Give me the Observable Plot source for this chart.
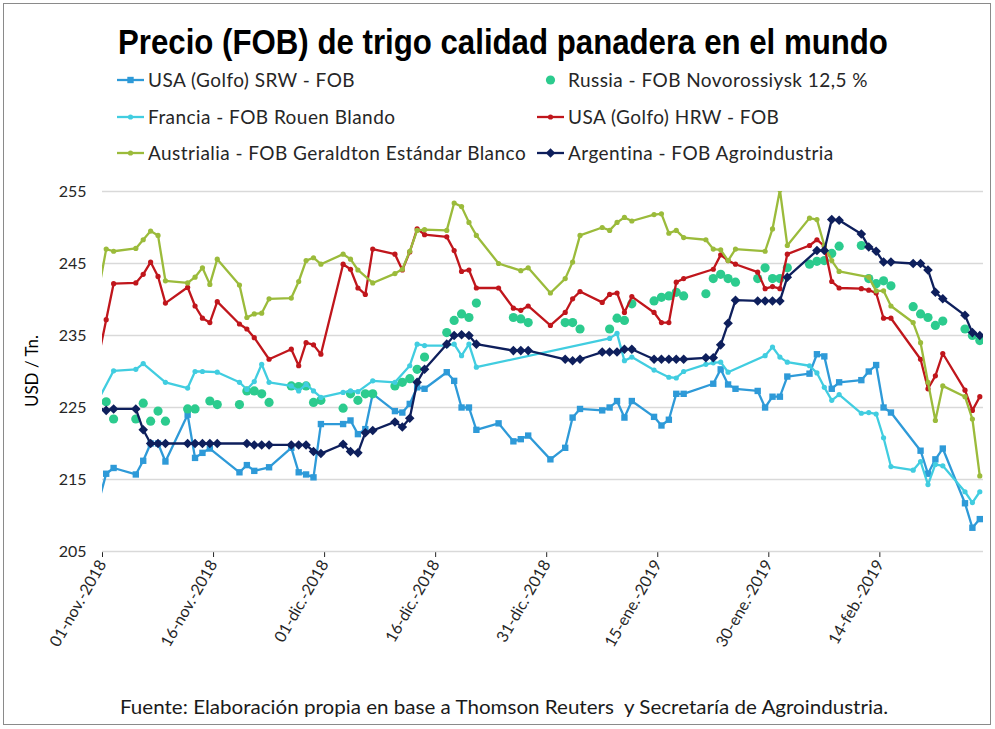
<!DOCTYPE html>
<html><head><meta charset="utf-8">
<script src="https://cdn.jsdelivr.net/npm/d3@7"></script>
<script src="https://cdn.jsdelivr.net/npm/@observablehq/plot@0.6"></script>
<style>
html,body{margin:0;padding:0;background:#fff;}
body{width:995px;height:729px;position:relative;overflow:hidden;font-family:Lato,"Open Sans",sans-serif;color:#262626;}
#frame{position:absolute;left:3px;top:3px;width:988px;height:722px;border:1px solid #8a8a8a;box-sizing:border-box;}
#head{position:absolute;left:0;top:0;}
#chart{position:absolute;left:0;top:180px;}
#ylabel{position:absolute;left:31px;top:371px;transform:translate(-50%,-50%) rotate(-90deg);font-size:17px;white-space:nowrap;color:#000;}
#bottom{position:absolute;left:0;top:690px;}
#chart svg g[aria-label="x-axis"] line{stroke:#bfbfbf;}
#chart svg g[aria-label="x-axis"] text{font-size:19px;letter-spacing:1px;}
#chart svg g[aria-label="y-axis"] text{font-size:17px;}
</style></head>
<body>
<div id="frame"></div>
<svg id="head" width="995" height="180"></svg>
<div id="chart"></div>
<div id="ylabel">USD / Tn.</div>
<svg id="bottom" width="995" height="36"></svg>
<script>
const titleText = "Precio (FOB) de trigo calidad panadera en el mundo";
const captionText = "Fuente: Elaboración propia en base a Thomson Reuters  y Secretaría de Agroindustria.";
const seriesNames = ["USA (Golfo) SRW - FOB","Russia - FOB Novorossiysk 12,5 %","Francia - FOB Rouen Blando","USA (Golfo) HRW - FOB","Austrialia - FOB Geraldton Estándar Blanco","Argentina - FOB Agroindustria"];
const seriesColors = ["#2e9ad8","#2ccb8e","#41cde0","#c0161c","#9bbb3b","#0e1f5c"];

const srw = [["2018-10-31",212.0],["2018-11-01",215.8],["2018-11-02",216.6],["2018-11-05",215.7],["2018-11-06",217.6],["2018-11-07",220.0],["2018-11-08",220.0],["2018-11-09",217.5],["2018-11-12",224.0],["2018-11-13",218.0],["2018-11-14",218.7],["2018-11-15",219.3],["2018-11-19",216.0],["2018-11-20",217.0],["2018-11-21",216.2],["2018-11-23",216.7],["2018-11-26",219.4],["2018-11-27",216.0],["2018-11-28",215.7],["2018-11-29",215.3],["2018-11-30",222.7],["2018-12-03",222.7],["2018-12-04",223.2],["2018-12-05",221.3],["2018-12-06",222.0],["2018-12-07",226.9],["2018-12-10",224.5],["2018-12-11",224.3],["2018-12-12",225.5],["2018-12-13",227.8],["2018-12-14",227.6],["2018-12-17",229.9],["2018-12-18",228.7],["2018-12-19",225.0],["2018-12-20",225.0],["2018-12-21",221.9],["2018-12-24",222.8],["2018-12-26",220.3],["2018-12-27",220.6],["2018-12-28",221.1],["2018-12-31",217.8],["2019-01-02",219.4],["2019-01-03",223.6],["2019-01-04",224.8],["2019-01-07",224.6],["2019-01-08",225.0],["2019-01-09",225.9],["2019-01-10",223.6],["2019-01-11",225.9],["2019-01-14",223.7],["2019-01-15",222.5],["2019-01-16",223.3],["2019-01-17",226.9],["2019-01-18",226.9],["2019-01-22",228.3],["2019-01-23",230.3],["2019-01-24",228.2],["2019-01-25",227.6],["2019-01-28",227.3],["2019-01-29",225.0],["2019-01-30",226.5],["2019-01-31",226.5],["2019-02-01",229.3],["2019-02-04",229.7],["2019-02-05",232.4],["2019-02-06",232.1],["2019-02-07",227.6],["2019-02-08",228.5],["2019-02-11",228.8],["2019-02-12",230.0],["2019-02-13",230.9],["2019-02-14",225.0],["2019-02-15",224.3],["2019-02-19",219.0],["2019-02-20",215.8],["2019-02-21",217.8],["2019-02-22",219.3],["2019-02-25",211.7],["2019-02-26",208.3],["2019-02-27",209.5]];

const russia = [["2018-11-01",225.8],["2018-11-02",223.4],["2018-11-05",223.4],["2018-11-06",225.6],["2018-11-07",223.1],["2018-11-08",224.5],["2018-11-09",223.1],["2018-11-12",224.8],["2018-11-13",224.8],["2018-11-15",225.9],["2018-11-16",225.4],["2018-11-19",225.4],["2018-11-20",227.3],["2018-11-21",227.3],["2018-11-22",226.9],["2018-11-23",225.7],["2018-11-26",228.0],["2018-11-27",227.9],["2018-11-28",228.0],["2018-11-29",225.7],["2018-11-30",226.0],["2018-12-03",224.9],["2018-12-04",226.9],["2018-12-05",226.0],["2018-12-06",226.9],["2018-12-07",226.9],["2018-12-10",228.0],["2018-12-11",228.5],["2018-12-12",229.0],["2018-12-13",230.3],["2018-12-14",232.0],["2018-12-17",235.4],["2018-12-18",237.1],["2018-12-19",238.0],["2018-12-20",237.5],["2018-12-21",239.5],["2018-12-26",237.5],["2018-12-27",237.3],["2018-12-28",236.8],["2019-01-02",236.8],["2019-01-03",236.8],["2019-01-04",235.9],["2019-01-08",235.9],["2019-01-09",237.4],["2019-01-10",237.1],["2019-01-11",239.4],["2019-01-14",239.8],["2019-01-15",240.3],["2019-01-16",240.5],["2019-01-17",241.0],["2019-01-18",240.5],["2019-01-21",240.8],["2019-01-22",242.9],["2019-01-23",243.5],["2019-01-24",242.9],["2019-01-25",242.4],["2019-01-28",242.9],["2019-01-29",244.4],["2019-01-30",242.9],["2019-01-31",242.9],["2019-02-01",244.4],["2019-02-04",244.9],["2019-02-05",245.3],["2019-02-06",245.4],["2019-02-07",246.4],["2019-02-08",247.4],["2019-02-11",247.5],["2019-02-12",242.9],["2019-02-13",242.2],["2019-02-14",242.6],["2019-02-15",241.9],["2019-02-18",239.0],["2019-02-19",238.0],["2019-02-20",237.5],["2019-02-21",236.4],["2019-02-22",237.0],["2019-02-25",235.9],["2019-02-26",235.0],["2019-02-27",234.3]];

const francia = [["2018-10-31",226.2],["2018-11-02",230.1],["2018-11-05",230.3],["2018-11-06",231.1],["2018-11-09",228.5],["2018-11-12",227.7],["2018-11-13",230.0],["2018-11-14",230.0],["2018-11-16",229.9],["2018-11-19",228.5],["2018-11-20",227.5],["2018-11-21",228.6],["2018-11-22",231.0],["2018-11-23",228.5],["2018-11-26",228.0],["2018-11-27",227.3],["2018-11-28",228.2],["2018-11-29",227.3],["2018-11-30",226.4],["2018-12-03",227.1],["2018-12-04",227.3],["2018-12-05",227.2],["2018-12-07",228.7],["2018-12-10",228.5],["2018-12-12",230.8],["2018-12-13",233.8],["2018-12-14",233.6],["2018-12-17",233.6],["2018-12-18",233.8],["2018-12-19",232.2],["2018-12-20",233.8],["2018-12-21",230.6],["2019-01-08",234.6],["2019-01-09",235.3],["2019-01-10",231.5],["2019-01-11",232.0],["2019-01-14",230.2],["2019-01-16",229.2],["2019-01-17",229.1],["2019-01-18",230.0],["2019-01-21",231.0],["2019-01-22",231.2],["2019-01-23",231.3],["2019-01-24",229.9],["2019-01-29",232.2],["2019-01-30",233.4],["2019-01-31",232.0],["2019-02-01",231.3],["2019-02-04",230.8],["2019-02-05",229.8],["2019-02-06",227.8],["2019-02-07",226.0],["2019-02-08",226.8],["2019-02-11",224.2],["2019-02-12",224.3],["2019-02-13",224.1],["2019-02-14",220.8],["2019-02-15",216.8],["2019-02-18",216.3],["2019-02-19",217.5],["2019-02-20",214.3],["2019-02-21",217.1],["2019-02-22",216.9],["2019-02-25",213.3],["2019-02-26",211.8],["2019-02-27",213.3]];

const hrw = [["2018-10-31",232.2],["2018-11-01",237.2],["2018-11-02",242.2],["2018-11-05",242.3],["2018-11-06",243.5],["2018-11-07",245.2],["2018-11-08",243.2],["2018-11-09",239.5],["2018-11-12",241.7],["2018-11-13",239.1],["2018-11-14",237.4],["2018-11-15",236.8],["2018-11-16",239.7],["2018-11-19",236.6],["2018-11-20",235.9],["2018-11-21",234.7],["2018-11-23",231.7],["2018-11-26",233.1],["2018-11-27",230.8],["2018-11-28",234.0],["2018-11-29",233.7],["2018-11-30",232.4],["2018-12-03",244.9],["2018-12-04",244.2],["2018-12-05",241.6],["2018-12-06",240.7],["2018-12-07",247.0],["2018-12-10",246.3],["2018-12-11",244.1],["2018-12-12",246.6],["2018-12-13",249.8],["2018-12-14",249.0],["2018-12-17",248.7],["2018-12-18",246.8],["2018-12-19",243.9],["2018-12-20",244.1],["2018-12-21",241.6],["2018-12-24",241.6],["2018-12-26",238.8],["2018-12-27",238.5],["2018-12-28",239.1],["2018-12-31",236.4],["2019-01-02",238.2],["2019-01-03",240.1],["2019-01-04",241.1],["2019-01-07",239.6],["2019-01-08",240.7],["2019-01-09",240.9],["2019-01-10",238.2],["2019-01-11",240.4],["2019-01-14",238.2],["2019-01-15",236.8],["2019-01-16",236.8],["2019-01-17",242.4],["2019-01-18",242.9],["2019-01-22",244.2],["2019-01-23",246.2],["2019-01-24",245.4],["2019-01-25",244.9],["2019-01-28",243.8],["2019-01-29",241.5],["2019-01-30",241.8],["2019-01-31",241.5],["2019-02-01",246.3],["2019-02-04",247.5],["2019-02-05",248.3],["2019-02-06",247.4],["2019-02-07",242.5],["2019-02-08",241.6],["2019-02-11",241.5],["2019-02-12",241.3],["2019-02-13",240.9],["2019-02-14",237.4],["2019-02-15",237.4],["2019-02-19",231.7],["2019-02-20",227.6],["2019-02-21",229.4],["2019-02-22",232.5],["2019-02-25",227.4],["2019-02-26",224.6],["2019-02-27",226.5]];

const australia = [["2018-10-31",241.4],["2018-11-01",247.0],["2018-11-02",246.7],["2018-11-05",247.1],["2018-11-06",248.3],["2018-11-07",249.5],["2018-11-08",248.9],["2018-11-09",242.6],["2018-11-12",242.3],["2018-11-13",243.1],["2018-11-14",244.4],["2018-11-15",242.1],["2018-11-16",245.6],["2018-11-19",242.0],["2018-11-20",237.5],["2018-11-21",238.0],["2018-11-22",238.1],["2018-11-23",240.1],["2018-11-26",240.2],["2018-11-27",242.5],["2018-11-28",245.4],["2018-11-29",245.8],["2018-11-30",244.9],["2018-12-03",246.3],["2018-12-04",245.6],["2018-12-05",244.1],["2018-12-07",242.3],["2018-12-10",243.6],["2018-12-11",244.2],["2018-12-12",246.7],["2018-12-13",249.6],["2018-12-14",249.7],["2018-12-17",249.6],["2018-12-18",253.4],["2018-12-19",252.9],["2018-12-20",250.7],["2018-12-21",248.9],["2018-12-24",245.0],["2018-12-27",244.0],["2018-12-28",244.4],["2018-12-31",240.9],["2019-01-02",242.9],["2019-01-03",245.2],["2019-01-04",248.9],["2019-01-07",250.0],["2019-01-08",249.6],["2019-01-09",250.7],["2019-01-10",251.4],["2019-01-11",250.9],["2019-01-14",251.8],["2019-01-15",251.9],["2019-01-16",249.2],["2019-01-17",249.6],["2019-01-18",248.6],["2019-01-21",248.3],["2019-01-22",247.0],["2019-01-23",246.9],["2019-01-24",245.4],["2019-01-25",247.0],["2019-01-29",246.7],["2019-01-30",249.8],["2019-01-31",255.2],["2019-02-01",247.5],["2019-02-04",251.3],["2019-02-05",251.1],["2019-02-06",247.5],["2019-02-07",245.4],["2019-02-08",243.9],["2019-02-12",243.1],["2019-02-13",241.2],["2019-02-14",241.2],["2019-02-15",239.1],["2019-02-18",236.8],["2019-02-19",234.0],["2019-02-20",228.5],["2019-02-21",223.2],["2019-02-22",228.0],["2019-02-25",226.5],["2019-02-26",223.4],["2019-02-27",215.5]];

const argentina = [["2018-10-31",224.8],["2018-11-01",224.6],["2018-11-02",224.8],["2018-11-05",224.8],["2018-11-06",221.9],["2018-11-07",220.0],["2018-11-08",220.0],["2018-11-09",220.0],["2018-11-12",220.0],["2018-11-13",220.0],["2018-11-14",220.0],["2018-11-15",220.0],["2018-11-16",220.0],["2018-11-20",220.0],["2018-11-21",219.8],["2018-11-22",219.8],["2018-11-23",219.8],["2018-11-26",219.8],["2018-11-27",219.8],["2018-11-28",219.8],["2018-11-29",218.9],["2018-11-30",218.6],["2018-12-03",219.9],["2018-12-04",218.9],["2018-12-05",218.7],["2018-12-06",221.5],["2018-12-07",221.8],["2018-12-10",223.0],["2018-12-11",222.3],["2018-12-12",223.5],["2018-12-13",228.5],["2018-12-14",230.3],["2018-12-17",233.8],["2018-12-18",235.0],["2018-12-19",235.1],["2018-12-20",235.0],["2018-12-21",233.8],["2018-12-26",232.9],["2018-12-27",232.9],["2018-12-28",232.9],["2019-01-02",231.7],["2019-01-03",231.5],["2019-01-04",231.7],["2019-01-07",232.7],["2019-01-08",232.7],["2019-01-09",232.7],["2019-01-10",233.1],["2019-01-11",233.1],["2019-01-14",231.7],["2019-01-15",231.7],["2019-01-16",231.7],["2019-01-17",231.7],["2019-01-18",231.7],["2019-01-21",231.9],["2019-01-22",231.9],["2019-01-23",233.7],["2019-01-24",236.7],["2019-01-25",239.9],["2019-01-28",239.8],["2019-01-29",239.8],["2019-01-30",239.8],["2019-01-31",239.8],["2019-02-01",243.1],["2019-02-05",246.8],["2019-02-06",246.8],["2019-02-07",251.1],["2019-02-08",251.0],["2019-02-11",249.1],["2019-02-12",247.3],["2019-02-13",246.7],["2019-02-14",245.2],["2019-02-15",245.2],["2019-02-18",245.0],["2019-02-19",245.0],["2019-02-20",244.1],["2019-02-21",241.0],["2019-02-22",240.1],["2019-02-25",237.8],["2019-02-26",235.4],["2019-02-27",235.0]];

const yTicks = [205, 215, 225, 235, 245, 255];
const tickDateStrings = ["2018-11-01","2018-11-16","2018-12-01","2018-12-16","2018-12-31","2019-01-15","2019-01-30","2019-02-14"];
const tickLabels = ["01-nov.-2018","16-nov.-2018","01-dic.-2018","16-dic.-2018","31-dic.-2018","15-ene.-2019","30-ene.-2019","14-feb.-2019"];
const xDomainStrings = ["2018-11-01","2019-02-28"];

// ---- build
const seriesData = [srw, russia, francia, hrw, australia, argentina];
const seriesStyle = [
  {line: true, symbol: "square", r: 3.6},
  {line: false, symbol: "circle", r: 4.6},
  {line: true, symbol: "circle", r: 2.6},
  {line: true, symbol: "circle", r: 2.6},
  {line: true, symbol: "circle", r: 2.6},
  {line: true, symbol: "diamond2", r: 4.3}
];
const toDate = s => new Date(s + "T12:00:00Z");
const tickDates = tickDateStrings.map(s => new Date(s + "T00:00:00Z"));
const labelMap = new Map(tickDates.map((d, i) => [+d, tickLabels[i]]));
const xDomain = xDomainStrings.map(s => new Date(s + "T00:00:00Z"));

const marks = [Plot.ruleY(yTicks, {stroke: "#d9d9d9", strokeWidth: 1.3})];
seriesData.forEach((arr, i) => {
  const rows = arr.map(([d, v]) => ({date: toDate(d), value: v}));
  const st = seriesStyle[i];
  if (st.line) marks.push(Plot.line(rows, {x: "date", y: "value", stroke: seriesColors[i], strokeWidth: 2.3, clip: true}));
  marks.push(Plot.dot(rows, {x: "date", y: "value", fill: seriesColors[i], stroke: "none", r: st.r, symbol: st.symbol, clip: true}));
});

const chart = Plot.plot({
  width: 995, height: 510,
  marginLeft: 102, marginRight: 12, marginTop: 11, marginBottom: 139,
  style: {fontFamily: "Lato, 'Open Sans', sans-serif", fontSize: "16px", color: "#262626", background: "transparent", overflow: "visible"},
  x: {type: "utc", domain: xDomain, ticks: tickDates, tickFormat: d => labelMap.get(+d), tickRotate: -60, tickSize: 6, tickPadding: 4, label: null},
  y: {domain: [205, 255], ticks: yTicks, tickSize: 0, tickPadding: 16, label: null},
  marks
});
document.getElementById("chart").appendChild(chart);

// ---- title (natural-width text scaled horizontally to the reference width)
const head = d3.select("#head");
const title = head.append("text").attr("x", 0).attr("y", 0)
  .attr("font-family", "'Liberation Sans', Arial, sans-serif").attr("font-weight", "bold").attr("font-size", 36).attr("fill", "#000").text(titleText);
const titleW = title.node().getComputedTextLength();
title.attr("transform", `translate(118,54) scale(${770 / titleW},1)`);

// ---- legend
const legendCols = [117, 537];
const legendRows = [80, 117, 153];
seriesNames.forEach((name, i) => {
  const col = i % 2, row = Math.floor(i / 2);
  const x0 = legendCols[col], y = legendRows[row], st = seriesStyle[i], c = seriesColors[i];
  if (st.line) head.append("line").attr("x1", x0).attr("x2", x0 + 27).attr("y1", y).attr("y2", y).attr("stroke", c).attr("stroke-width", 2.3);
  const sym = {square: d3.symbolSquare, circle: d3.symbolCircle, diamond2: d3.symbolDiamond2}[st.symbol];
  head.append("path").attr("d", d3.symbol(sym, Math.PI * st.r * st.r)()).attr("transform", `translate(${x0 + 13.5},${y})`).attr("fill", c);
  head.append("text").attr("x", x0 + 31).attr("y", y).attr("dy", "0.35em").attr("font-size", 19).attr("letter-spacing", 0.45)
    .attr("font-family", "Lato, 'Open Sans', sans-serif").attr("fill", "#262626").text(name);
});

// ---- caption
d3.select("#bottom").append("text").attr("x", 120).attr("y", 24).attr("textLength", 768).attr("lengthAdjust", "spacingAndGlyphs")
  .attr("font-size", 19).attr("font-family", "Lato, 'Open Sans', sans-serif").attr("fill", "#1a1a1a").style("white-space", "pre").text(captionText);
</script>
</body></html>
